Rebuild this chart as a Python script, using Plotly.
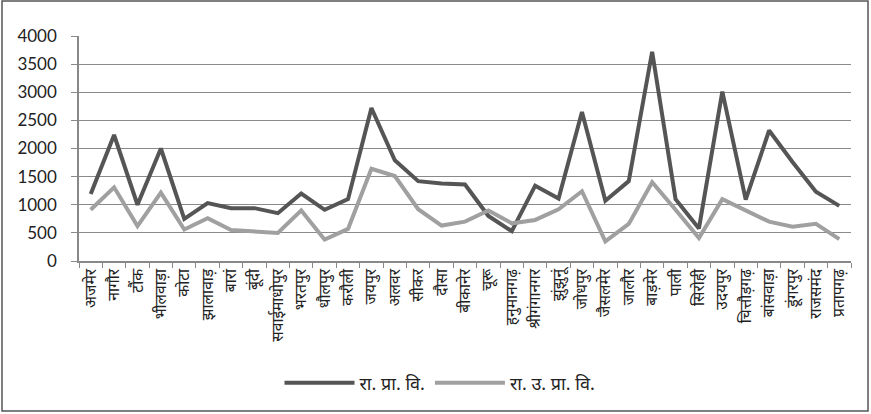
import plotly.graph_objects as go

districts = ["अजमेर", "नागौर", "टौंक", "भीलवाड़ा", "कोटा", "झालावाड़", "बारां", "बूंदी",
             "सवाईमाधोपुर", "भरतपुर", "धौलपुर", "करौली", "जयपुर", "अलवर", "सीकर", "दौसा",
             "बीकानेर", "चूरू", "हनुमानगढ़", "श्रीगंगानगर", "झुंझुनूं", "जोधपुर", "जैसलमेर",
             "जालौर", "बाड़मेर", "पाली", "सिरोही", "उदयपुर", "चित्तौड़गढ़", "बांसवाड़ा",
             "डूंगरपुर", "राजसमंद", "प्रतापगढ़"]

primary = [1190, 2240, 1000, 2000, 750, 1030, 940, 940, 850, 1200, 910, 1100, 2720, 1790,
           1420, 1380, 1360, 800, 530, 1340, 1110, 2650, 1070, 1420, 3720, 1100, 580, 3010,
           1090, 2320, 1760, 1230, 980]

upper_primary = [910, 1310, 620, 1215, 560, 760, 550, 525, 500, 900, 380, 570, 1640, 1510,
                 920, 630, 700, 900, 670, 730, 920, 1240, 350, 660, 1400, 910, 410, 1100,
                 900, 700, 610, 660, 390]

series_names = ["रा. प्रा. वि.", "रा. उ. प्रा. वि."]
y_ticks = [0, 500, 1000, 1500, 2000, 2500, 3000, 3500, 4000]

fig = go.Figure()
fig.add_trace(go.Scatter(x=districts, y=primary, mode="lines", name=series_names[0],
                         line=dict(color="#555555", width=4)))
fig.add_trace(go.Scatter(x=districts, y=upper_primary, mode="lines", name=series_names[1],
                         line=dict(color="#a0a0a0", width=4)))

W, H = 871, 414
ml, mr, mt, mb = 79, 20, 36, 153
pw, ph = W - ml - mr, H - mt - mb

fig.update_layout(
    width=W, height=H,
    margin=dict(l=ml, r=mr, t=mt, b=mb, pad=0),
    paper_bgcolor="white", plot_bgcolor="white",
    font=dict(family="Noto Sans, Lato, sans-serif", color="#222222"),
    showlegend=True,
    legend=dict(orientation="h", x=(440 - ml) / pw, xanchor="center",
                y=(mt + ph - 383) / ph, yanchor="middle",
                font=dict(size=18, color="#222222"), itemwidth=70,
                tracegroupgap=40,
                bgcolor="rgba(0,0,0,0)"),
    xaxis=dict(type="category", showgrid=False, showline=True, linecolor="#888888",
               linewidth=1.5, ticks="outside", ticklen=5, tickcolor="#888888",
               tickson="boundaries", tickangle=-90,
               tickfont=dict(size=15.5, color="#222222"), range=[-0.5, 32.5]),
    yaxis=dict(range=[0, 4000], tickvals=y_ticks, showgrid=True, gridcolor="#8a8a8a",
               gridwidth=1.3, showline=True, linecolor="#888888", linewidth=1.5,
               ticks="outside", ticklen=6, tickcolor="#888888", zeroline=False,
               tickfont=dict(size=17, family="Lato, Noto Sans, sans-serif", color="#222222"),
               ticklabelstandoff=11),
    shapes=[dict(type="rect", xref="paper", yref="paper",
                 x0=(2 - ml) / pw, x1=(868 - ml) / pw,
                 y0=(mt + ph - 411) / ph, y1=(mt + ph - 1) / ph,
                 line=dict(color="#555555", width=1.5), layer="below")],
)

fig.write_html("out.html")
